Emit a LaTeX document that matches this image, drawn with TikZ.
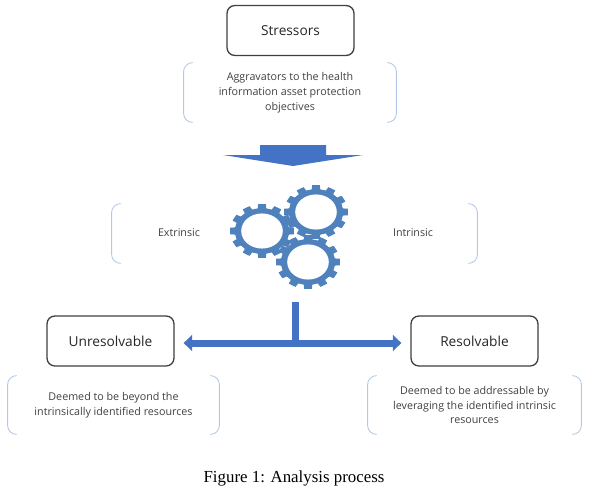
\documentclass[tikz,border=0pt]{standalone}
\usepackage{fontspec}
\setmainfont{Liberation Serif}
\newfontfamily\boxfont{Open Sans}
\usetikzlibrary{arrows.meta,positioning,calc}
\definecolor{cblock}{HTML}{4472C4}
\definecolor{cgear}{HTML}{4F81BD}
\definecolor{cbrk}{HTML}{B4C7E7}
\definecolor{cedge}{HTML}{404040}
\definecolor{ctext}{HTML}{404040}

\begin{document}
\begin{tikzpicture}[
  cls/.style={draw=cedge, fill=white, rounded corners=4.5pt, line width=0.75pt, align=center,
              minimum width=2.54cm, minimum height=1cm, text=black!85,
              font=\boxfont\fontsize{7.8}{9}\selectfont},
  note/.style={align=center, inner sep=0pt, text=ctext, font=\boxfont\fontsize{6.1}{8.5}\selectfont},
  brk/.style={line width=0.5pt, draw=cbrk, rounded corners=5pt},
  block/.style={line width=0.14cm, draw=cblock},
  gearwheel/.pic={
    \begin{scope}[x=0.64cm, y=0.54cm]
      \fill[cgear] (-9:0.85) \foreach \a in {0,30,...,330} {
        -- ({\a-9}:0.85) -- ({\a-7}:1) -- ({\a+7}:1) -- ({\a+9}:0.85) -- ({\a+21}:0.85)} -- cycle;
      \fill[white] (0,0) circle (0.65);
    \end{scope}
  },
]
\newcommand{\brkpair}[1]{%
  \draw[brk] ($(#1.north west)+(0.18,0)$) -- (#1.north west) -- (#1.south west) -- ++(0.18,0);
  \draw[brk] ($(#1.north east)+(-0.18,0)$) -- (#1.north east) -- (#1.south east) -- ++(-0.18,0);}

\useasboundingbox (0,0) rectangle (11.8,-9.78);

% ------------------------------------------------------------------ stressors
\node[cls] (stress) at (5.81,-0.61) {Stressors};
\node[note, minimum width=4.24cm, minimum height=1.18cm] (aggr) at (5.8,-1.85)
  {Aggravators to the health\\information asset protection\\objectives};
\brkpair{aggr}

% down arrow under the note
\coordinate (down) at (5.86,-2.9);
\fill[cblock] (down) ++(-0.66,0) -- ++(1.32,0) -- ++(0,-0.2) -- ++(0.74,0)
  -- (5.86,-3.32) -- (4.46,-3.1) -- (5.2,-3.1) -- cycle;

% ------------------------------------------------------------------ gears
\node[inner sep=0pt, minimum width=7.3cm, minimum height=1.18cm] (mid) at (5.89,-4.67) {};
\brkpair{mid}
\node[note] (extr) at (3.58,-4.66) {Extrinsic};
\node[note] (intr) at (8.26,-4.66) {Intrinsic};
\pic (gearA) at (5.24,-4.62) {gearwheel};
\pic (gearB) at (6.32,-4.24) {gearwheel};
\pic (gearC) at (6.16,-5.24) {gearwheel};

% ------------------------------------------------------------------ outcomes
\node[cls] (unres) at (2.21,-6.82) {Unresolvable};
\node[cls] (res)   at (9.49,-6.82) {Resolvable};
\node[note, minimum width=4.22cm, minimum height=1.16cm] (beyond) at (2.27,-8.1)
  {Deemed to be beyond the\\intrinsically identified resources};
\node[note, minimum width=4.26cm, minimum height=1.16cm] (addr) at (9.49,-8.1)
  {Deemed to be addressable by\\leveraging the identified intrinsic\\resources};
\brkpair{beyond}
\brkpair{addr}

% stem and double arrow between the outcomes
\coordinate (stem) at (5.91,-6.04);
\coordinate (split) at (5.91,-6.86);
\draw[block] (stem) -- (split);
\draw[block, {Triangle[length=0.17cm,width=0.32cm]}-{Triangle[length=0.17cm,width=0.32cm]},
      shorten <=0.18cm, shorten >=0.18cm] ([yshift=-0.04cm]unres.east) -- ([yshift=-0.04cm]res.west);

% ------------------------------------------------------------------ caption
\node[font=\fontsize{9.6}{11}\selectfont] (capt) at (5.88,-9.56) {Figure 1: Analysis process};
\end{tikzpicture}
\end{document}
